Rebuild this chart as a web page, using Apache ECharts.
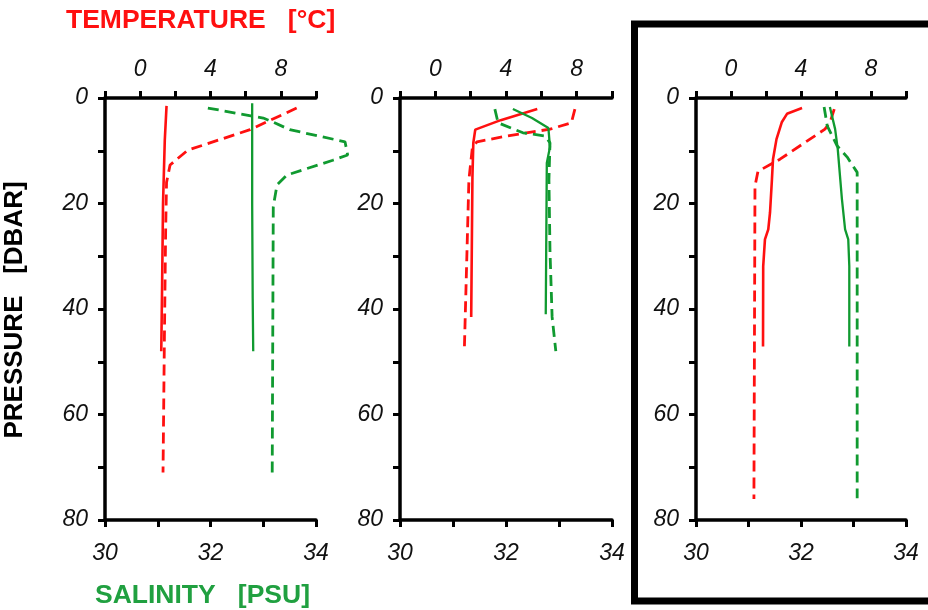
<!DOCTYPE html>
<html>
<head>
<meta charset="utf-8">
<script src="https://cdn.jsdelivr.net/npm/echarts@6/dist/echarts.min.js"></script>
<style>
html,body{margin:0;padding:0;background:#fff;}
#main{width:928px;height:610px;}
</style>
</head>
<body>
<div id="main"></div>
<script>
// values are [value, pressure]
var p1TempSolid = [[1.5,1.5],[1.4,8],[1.3,20],[1.25,35],[1.2,48]];
var p1TempDashed = [[8.9,1.9],[6.25,6],[2.7,9.9],[1.7,12.7],[1.5,16],[1.45,25],[1.38,45],[1.3,71]];
var p1SalSolid = [[32.79,1],[32.79,20],[32.8,38],[32.81,48]];
var p1SalDashed = [[31.95,1.9],[33.0,3.8],[33.17,4.5],[33.5,6],[34.55,8.3],[34.6,10.8],[34.32,11.8],[33.45,14.6],[33.26,16.5],[33.19,20.6],[33.17,71]];

var p2TempSolid = [[5.77,2.1],[3.7,4.2],[2.26,6],[2.15,8.5],[2.1,15],[2.03,41.5]];
var p2TempDashed = [[7.9,2.1],[7.7,4.7],[6.5,5.9],[4.07,7.2],[2.36,8.3],[2.1,9.3],[1.9,15.5],[1.64,48]];
var p2SalSolid = [[32.13,2.1],[32.49,3.8],[32.8,5.7],[32.83,9.3],[32.77,12.3],[32.75,41]];
var p2SalDashed = [[31.79,2.1],[31.85,4.7],[32.32,6.6],[32.74,7.2],[32.83,8.5],[32.81,15.5],[32.83,29],[32.87,41.5],[32.94,48]];

var p3TempSolid = [[4.06,1.9],[3.2,3],[2.9,4.6],[2.6,7.8],[2.4,11.6],[2.34,15.4],[2.23,21.7],[2.13,24.9],[1.94,26.8],[1.84,31.9],[1.83,47.1]];
var p3TempDashed = [[5.9,2.1],[5.66,4.6],[5.37,5.9],[2.8,11.6],[1.54,13.9],[1.37,16.7],[1.31,76]];
var p3SalSolid = [[32.55,1.7],[32.65,5.9],[32.7,9.7],[32.78,19.2],[32.84,24.9],[32.9,26.8],[32.92,31.9],[32.92,47.1]];
var p3SalDashed = [[32.44,1.7],[32.5,5.3],[32.69,9.1],[32.88,11.2],[33.07,14.1],[33.07,16.7],[33.07,75.9]];

var tempLabels = [0, 4, 8];
var salLabels = [30, 32, 34];
var presLabels = [0, 20, 40, 60, 80];

var RED = '#ff1010', GREEN = '#109a30';
var panelLeft = [105, 400, 696];
var panelWidth = [211, 212, 210];

var myChart = echarts.init(document.getElementById('main'));

var labelFont = {
	color: '#111',
	fontSize: 23,
	fontStyle: 'italic',
	fontFamily: 'Liberation Sans'
};
var axLine = {show: true, onZero: false, lineStyle: {color: '#000', width: 3.5}};
var axTick = {show: true, inside: false, length: 7, lineStyle: {color: '#000', width: 3}};

var grids = [], xAxes = [], yAxes = [], series = [];
var panels = [
	[p1TempSolid, p1TempDashed, p1SalSolid, p1SalDashed],
	[p2TempSolid, p2TempDashed, p2SalSolid, p2SalDashed],
	[p3TempSolid, p3TempDashed, p3SalSolid, p3SalDashed]
];

for (var i = 0; i < 3; i++) {
	grids.push({left: panelLeft[i], width: panelWidth[i], top: 98, bottom: 90});
	// salinity, bottom
	xAxes.push({
		type: 'value', gridIndex: i, position: 'bottom',
		min: 30, max: 34, interval: 1,
		axisLine: axLine, axisTick: axTick,
		splitLine: {show: false},
		axisLabel: Object.assign({margin: 22, formatter: function (v) {
			return salLabels.indexOf(v) > -1 ? v : '';
		}}, labelFont)
	});
	// temperature, top
	xAxes.push({
		type: 'value', gridIndex: i, position: 'top',
		min: -2, max: 10, interval: 2,
		axisLine: axLine, axisTick: axTick,
		splitLine: {show: false},
		axisLabel: Object.assign({margin: 17, formatter: function (v) {
			return tempLabels.indexOf(v) > -1 ? v : '';
		}}, labelFont)
	});
	yAxes.push({
		type: 'value', gridIndex: i, inverse: true,
		min: 0, max: 80, interval: 10,
		axisLine: axLine, axisTick: axTick,
		splitLine: {show: false},
		axisLabel: Object.assign({margin: 17, formatter: function (v) {
			return presLabels.indexOf(v) > -1 ? v : '';
		}}, labelFont)
	});
}

// hidden wider grid so the panel-1 salinity bulge past 34 is not cut off
grids.push({left: 105, width: 211 * 5 / 4, top: 98, bottom: 90});
xAxes.push({type: 'value', gridIndex: 3, min: 30, max: 35, show: false, splitLine: {show: false}});
yAxes.push({type: 'value', gridIndex: 3, inverse: true, min: 0, max: 80, show: false, splitLine: {show: false}});

for (var i = 0; i < 3; i++) {
	var d = panels[i];
	var specs = [
		[d[0], 2 * i + 1, i, RED, 'solid', 2.6],
		[d[1], 2 * i + 1, i, RED, [11, 6], 2.8],
		[d[2], 2 * i, i, GREEN, 'solid', 2.3],
		[d[3], i === 0 ? 6 : 2 * i, i === 0 ? 3 : i, GREEN, [11, 6], 2.8]
	];
	for (var k = 0; k < specs.length; k++) {
		series.push({
			type: 'line',
			xAxisIndex: specs[k][1],
			yAxisIndex: specs[k][2],
			data: specs[k][0],
			symbol: 'none',
			clip: false,
			silent: true,
			lineStyle: {color: specs[k][3], type: specs[k][4], width: specs[k][5]}
		});
	}
}

var option = {
	backgroundColor: '#fff',
	animation: false,
	grid: grids,
	xAxis: xAxes,
	yAxis: yAxes,
	series: series,
	graphic: [
		{
			type: 'text', left: 66, top: 7,
			style: {text: 'TEMPERATURE   [°C]', fill: RED, font: 'bold 26.5px "Liberation Sans"'}
		},
		{
			type: 'text', left: 95, top: 582,
			style: {text: 'SALINITY   [PSU]', fill: '#20a040', font: 'bold 26.5px "Liberation Sans"'}
		},
		{
			type: 'text', x: 15, y: 310, rotation: Math.PI / 2,
			style: {text: 'PRESSURE   [DBAR]', fill: '#000', font: 'bold 26px "Liberation Sans"', align: 'center', verticalAlign: 'middle'}
		},
		{
			type: 'rect',
			shape: {x: 634.5, y: 24, width: 400, height: 577},
			style: {fill: 'none', stroke: '#000', lineWidth: 7}
		}
	]
};
myChart.setOption(option);
</script>
</body>
</html>
